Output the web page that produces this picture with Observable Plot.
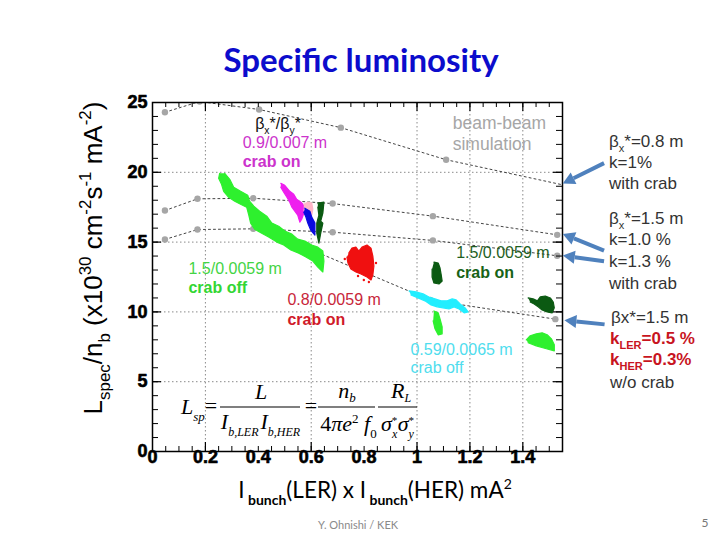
<!DOCTYPE html>
<html><head><meta charset="utf-8">
<script src="https://cdn.jsdelivr.net/npm/d3@7"></script>
<script src="https://cdn.jsdelivr.net/npm/@observablehq/plot@0.6"></script>
<style>body{margin:0;background:#fff;} svg{display:block;}</style>
</head><body><div id="chart"></div>
<script>
// ---------- data ----------
// beam-beam simulation curves [x, y]
const simA = [[0.047,24.3],[0.178,25.07],[0.403,24.5],[0.712,23.2],[1.11,20.9],[1.6,18.9]];
const simB = [[0.047,17.26],[0.17,18.1],[0.381,18.14],[0.681,17.76],[1.06,16.86],[1.53,15.52]];
const simC = [[0.047,15.19],[0.17,15.9],[0.381,15.95],[0.681,15.71],[1.06,15.12],[1.53,14.02]];
const simD = [[0.45,15.6],[0.611,14.36],[1.05,10.85],[1.523,9.48]];

// measured data clouds (outlines) [x, y]
const crabOff15 = [[0.273,19.93],[0.292,19.5],[0.307,18.93],[0.333,18.64],[0.36,18.36],[0.367,17.93],[0.383,17.57],[0.405,17.21],[0.432,16.86],[0.451,16.36],[0.477,16.14],[0.5,15.79],[0.527,15.57],[0.549,15.21],[0.576,15.07],[0.602,14.79],[0.625,14.64],[0.644,14.36],[0.648,13.64],[0.644,12.86],[0.625,13.21],[0.606,13.64],[0.58,13.93],[0.553,14.21],[0.523,14.43],[0.496,14.79],[0.47,15.0],[0.439,15.36],[0.413,15.64],[0.386,15.93],[0.371,16.36],[0.364,16.93],[0.356,17.5],[0.333,17.71],[0.311,17.93],[0.288,18.21],[0.269,18.64],[0.261,19.14],[0.25,19.57],[0.254,19.93]];
const crabOn09 = [[0.485,19.21],[0.5,19.07],[0.519,18.64],[0.534,18.43],[0.545,18.07],[0.561,17.86],[0.572,17.64],[0.572,17.07],[0.564,16.64],[0.557,16.43],[0.549,16.93],[0.538,17.21],[0.527,17.5],[0.519,17.86],[0.508,18.21],[0.496,18.57],[0.485,18.93]];
const pinkRun = [[0.572,17.71],[0.587,17.86],[0.602,17.79],[0.606,17.36],[0.602,16.93],[0.583,17.14],[0.572,17.29]];
const blueRun = [[0.576,17.43],[0.595,17.21],[0.602,16.79],[0.614,16.36],[0.614,15.5],[0.598,15.86],[0.587,16.36],[0.58,16.79],[0.572,17.14]];
const crabOn15a = [[0.625,17.79],[0.648,17.86],[0.644,17.07],[0.636,16.5],[0.644,16.36],[0.636,15.64],[0.629,14.93],[0.621,15.64],[0.621,16.36],[0.629,16.93],[0.625,17.5]];
const crabOn08 = [[0.742,14.21],[0.754,14.57],[0.769,14.64],[0.78,14.36],[0.792,14.64],[0.811,14.79],[0.826,14.57],[0.833,14.0],[0.837,13.29],[0.833,12.64],[0.826,12.29],[0.811,12.5],[0.788,12.71],[0.769,12.86],[0.75,13.07],[0.739,13.5],[0.735,13.93]];
const crabOn08Stray = [[0.727,13.79],[0.799,12.29],[0.845,13.5],[0.818,12.14],[0.777,12.57]];
const crabOn15b = [[1.064,13.57],[1.08,13.5],[1.087,13.14],[1.091,12.71],[1.095,12.21],[1.083,12.0],[1.064,12.07],[1.057,12.5],[1.057,13.07]];
const crabOn15c = [[1.42,11.0],[1.439,10.93],[1.455,10.79],[1.466,11.07],[1.485,11.14],[1.504,11.0],[1.515,10.71],[1.519,10.29],[1.511,9.93],[1.492,10.0],[1.473,10.14],[1.458,10.36],[1.443,10.57],[1.428,10.71]];
const crabOff059 = [[0.97,11.5],[0.996,11.43],[1.023,11.29],[1.045,11.07],[1.068,10.93],[1.091,10.79],[1.114,10.79],[1.133,10.93],[1.148,10.86],[1.163,10.57],[1.182,10.29],[1.193,10.0],[1.178,9.93],[1.159,10.21],[1.14,10.36],[1.121,10.21],[1.098,10.29],[1.076,10.36],[1.053,10.5],[1.03,10.79],[1.004,11.0],[0.977,11.21]];
const woCrabB = [[1.064,10.07],[1.08,9.93],[1.087,9.5],[1.095,8.93],[1.095,8.43],[1.08,8.36],[1.068,8.79],[1.061,9.36]];
const woCrabC = [[1.413,8.0],[1.428,8.29],[1.451,8.43],[1.473,8.5],[1.492,8.36],[1.508,8.07],[1.519,7.64],[1.519,7.21],[1.489,7.36],[1.451,7.57],[1.42,7.79]];

// axes
const xTickLabels = [0,0.2,0.4,0.6,0.8,1,1.2,1.4];
const yTickLabels = [0,5,10,15,20,25];
const xGrid = [0.2,0.6,1.0,1.2,1.4];
const yGrid = [5,10,15,20];
const xMinor = d3.range(0.05,1.54,0.05);
const yMinor = d3.range(1,25,1);

// arrows: tail -> head (end of the simulation curves)
const arrows = [
  {x1:1.709,y1:20.62,x2:1.553,y2:19.16},
  {x1:1.709,y1:14.36,x2:1.553,y2:15.55},
  {x1:1.709,y1:13.59,x2:1.553,y2:14.0},
  {x1:1.711,y1:9.07, x2:1.559,y2:9.36}
];

// in-plot labels
const labels = [
  {x:0.341,y:22.09,text:"0.9/0.007 m",color:"#CC33CC",bold:false},
  {x:0.341,y:20.74,text:"crab on",color:"#CC33CC",bold:true},
  {x:1.135,y:23.52,text:"beam-beam",color:"#A6A6A6",bold:false,size:17.5},
  {x:1.135,y:21.98,text:"simulation",color:"#A6A6A6",bold:false,size:17.5},
  {x:0.136,y:13.05,text:"1.5/0.0059 m",color:"#44D444",bold:false},
  {x:0.136,y:11.69,text:"crab off",color:"#33D633",bold:true},
  {x:0.51,y:10.84,text:"0.8/0.0059 m",color:"#C8263A",bold:false},
  {x:0.51,y:9.41,text:"crab on",color:"#D01A2A",bold:true},
  {x:1.148,y:14.24,text:"1.5/0.0059 m",color:"#1F5F1F",bold:false},
  {x:1.148,y:12.81,text:"crab on",color:"#176317",bold:true},
  {x:0.975,y:7.29,text:"0.59/0.0065 m",color:"#4FDDEE",bold:false},
  {x:0.975,y:5.98,text:"crab off",color:"#4FDDEE",bold:false}
];

const clouds = [
  {pts:crabOff15,color:"#2EF02E"},
  {pts:crabOn09,color:"#EE1FEE"},
  {pts:pinkRun,color:"#FFB6C8"},
  {pts:blueRun,color:"#0A0AE0"},
  {pts:crabOn15a,color:"#0B5A12"},
  {pts:crabOn08,color:"#F01010"},
  {pts:crabOn15b,color:"#0B5A12"},
  {pts:crabOn15c,color:"#0B5A12"},
  {pts:crabOff059,color:"#22EEFF"},
  {pts:woCrabB,color:"#2EF02E"},
  {pts:woCrabC,color:"#2EF02E"}
];

// ---------- plot ----------
const W = 720-152-158, H = 540-102-89;
const px = d=>d[0], py = d=>d[1];
const plot = Plot.plot({
  width:720, height:540,
  marginLeft:152, marginRight:158, marginTop:102, marginBottom:89,
  style:{background:"white", fontFamily:"'Liberation Sans', Arial, sans-serif", overflow:"visible"},
  x:{domain:[0,1.55], axis:null},
  y:{domain:[0,25], axis:null},
  marks:[
    Plot.ruleX(xGrid,{stroke:"#8a8a8a",strokeDasharray:"1.5,2.5",strokeWidth:1}),
    Plot.ruleY(yGrid,{stroke:"#8a8a8a",strokeDasharray:"1.5,2.5",strokeWidth:1}),
    ...[simA,simB,simC,simD].map(s=>Plot.line(s,{x:px,y:py,stroke:"#444",strokeWidth:1,strokeDasharray:"2,3",clip:true})),
    ...[simA,simB,simC,simD].map(s=>Plot.dot(s,{x:px,y:py,r:3.2,fill:"#A6A6A6",stroke:"none",clip:true})),
    ...clouds.map(c=>Plot.line(c.pts,{x:px,y:py,fill:c.color,stroke:c.color,strokeWidth:1.2,curve:"linear"})),
    Plot.dot(crabOn08Stray,{x:px,y:py,r:1.2,fill:"#F01010",stroke:"none"}),
    Plot.frame({stroke:"black",strokeWidth:1.5}),
    // ticks (inward, all four sides)
    Plot.ruleX(xMinor,{stroke:"black",insetTop:H-5}),
    Plot.ruleX(xMinor,{stroke:"black",insetBottom:H-5}),
    Plot.ruleX(xGrid,{stroke:"black",strokeWidth:1.2,insetTop:H-9}),
    Plot.ruleX(xGrid,{stroke:"black",strokeWidth:1.2,insetBottom:H-9}),
    Plot.ruleY(yMinor,{stroke:"black",insetRight:W-6}),
    Plot.ruleY(yMinor,{stroke:"black",insetLeft:W-6}),
    Plot.ruleY(yGrid,{stroke:"black",strokeWidth:1.2,insetRight:W-9}),
    Plot.ruleY(yGrid,{stroke:"black",strokeWidth:1.2,insetLeft:W-9}),
    // tick labels
    Plot.text(xTickLabels,{x:d=>d,frameAnchor:"bottom",dy:11,text:d=>String(d),fontSize:18,fontWeight:"bold",fill:"black",stroke:"black",strokeWidth:0.6}),
    Plot.text(yTickLabels,{y:d=>d,frameAnchor:"left",dx:-5,textAnchor:"end",text:d=>String(d),fontSize:18,fontWeight:"bold",fill:"black",stroke:"black",strokeWidth:0.6}),
    // labels
    ...labels.map(l=>Plot.text([l],{x:"x",y:"y",text:"text",textAnchor:"start",fill:l.color,fontSize:l.size||16,fontWeight:l.bold?"bold":"normal"}))
  ]
});
document.getElementById("chart").appendChild(plot);

// ---------- extra annotations ----------
const svg = d3.select(plot);
const X = plot.scale("x"), Y = plot.scale("y");
const g = svg.append("g");

function rich(x, y, parts, o){
  const t = g.append("text").attr("x",x).attr("y",y)
    .attr("font-family",o.family||"'Liberation Sans', Arial, sans-serif")
    .attr("font-size",o.size).attr("fill",o.fill||"#000")
    .attr("text-anchor",o.anchor||"start")
    .attr("font-weight",o.weight||"normal").attr("font-style",o.style||"normal")
    .style("white-space","pre");
  if (o.transform) t.attr("transform",o.transform);
  let cur = 0;
  for (const p of parts){
    const q = typeof p === "string" ? {t:p} : p;
    const shift = q.sub ? o.size*(q.subShift||0.3) : q.sup ? -o.size*(q.supShift||0.42) : 0;
    const ts = t.append("tspan").text(q.t).attr("dy",shift-cur);
    if (q.dx) ts.attr("dx",q.dx);
    if (q.sub||q.sup) ts.attr("font-size",q.size||o.size*0.65);
    if (q.weight) ts.attr("font-weight",q.weight);
    if (q.style) ts.attr("font-style",q.style);
    if (q.fill) ts.attr("fill",q.fill);
    cur = shift;
  }
  return t;
}

// title
rich(361,72,["Specific luminosity"],{family:"Lato, 'Open Sans', sans-serif",size:33,weight:"bold",fill:"#0C0CCC",anchor:"middle"});

// y-axis title
rich(0,0,["L",{t:"spec",sub:true},"/n",{t:"b",sub:true}," (x10",{t:"30",sup:true}," cm",{t:"-2",sup:true},"s",{t:"-1",sup:true}," mA",{t:"-2",sup:true},")"],
  {size:26,anchor:"middle",transform:"translate(102,258) rotate(-90)"});

// x-axis title
rich(375,498,["I",{t:" bunch",sub:true,weight:"bold",size:14},"(LER) x I",{t:" bunch",sub:true,weight:"bold",size:14},"(HER) mA",{t:"2",sup:true,size:14}],
  {family:"Lato, 'Open Sans', sans-serif",size:22.5,anchor:"middle"});

// footer
rich(358,529,["Y. Ohnishi / KEK"],{family:"Lato, sans-serif",size:11,fill:"#8a8a8a",anchor:"middle"});
rich(705,527,["5"],{family:"Lato, sans-serif",size:12,fill:"#777",anchor:"middle"});

// beta label inside plot
rich(X.apply(0.39),Y.apply(23.5)+6,["β",{t:"x",sub:true},"*/β",{t:"y",sub:true},"*"],{size:16,fill:"#111"});

// right annotations
const RX = 609, RS = 17, RC = "#333";
rich(RX,147,["β",{t:"x",sub:true},"*=0.8 m"],{size:RS,fill:RC});
rich(RX,168,["k=1%"],{size:RS,fill:RC});
rich(RX,189,["with crab"],{size:RS,fill:RC});
rich(RX,224,["β",{t:"x",sub:true},"*=1.5 m"],{size:RS,fill:RC});
rich(RX,245,["k=1.0 %"],{size:RS,fill:RC});
rich(RX,267,["k=1.3 %"],{size:RS,fill:RC});
rich(RX,289,["with crab"],{size:RS,fill:RC});
rich(RX+2,323,["βx*=1.5 m"],{size:RS,fill:RC});
rich(RX+1,344,["k",{t:"LER",sub:true},"=0.5 %"],{size:RS,fill:"#C8141E",weight:"bold"});
rich(RX+1,365,["k",{t:"HER",sub:true},"=0.3%"],{size:RS,fill:"#C8141E",weight:"bold"});
rich(RX+1,388,["w/o crab"],{size:RS,fill:RC});

// arrows
for (const a of arrows){
  const x1=X.apply(a.x1), y1=Y.apply(a.y1), x2=X.apply(a.x2), y2=Y.apply(a.y2);
  const dx=x2-x1, dy=y2-y1, L=Math.hypot(dx,dy), ux=dx/L, uy=dy/L;
  const hl=12, hw=6.5;
  const bx=x2-ux*hl, by=y2-uy*hl;
  g.append("line").attr("x1",x1).attr("y1",y1).attr("x2",bx).attr("y2",by)
    .attr("stroke","#4F81BD").attr("stroke-width",4);
  g.append("polygon").attr("points",[[x2,y2],[bx-uy*hw,by+ux*hw],[bx+uy*hw,by-ux*hw]].map(p=>p.join(",")).join(" "))
    .attr("fill","#4F81BD");
}

// formula
const F = "'Liberation Serif', 'Times New Roman', serif";
const fo = (o)=>Object.assign({family:F,size:22,style:"italic"},o);
rich(181,414,["L",{t:"sp",sub:true,size:13}],fo({}));
rich(211,413,["="],fo({style:"normal",anchor:"middle"}));
rich(311,413,["="],fo({style:"normal",anchor:"middle"}));
const bars = [[220,300],[318,375],[378,417]];
for (const b of bars) g.append("line").attr("x1",b[0]).attr("x2",b[1]).attr("y1",407).attr("y2",407).attr("stroke","#000").attr("stroke-width",1.2);
rich(261,399,["L"],fo({anchor:"middle"}));
rich(260.5,429,["I",{t:"b,LER",sub:true,size:12},{t:"I",dx:2},{t:"b,HER",sub:true,size:12}],fo({anchor:"middle"}));
rich(347,398,["n",{t:"b",sub:true,size:13,subShift:0.2}],fo({anchor:"middle"}));
rich(348.5,431,[{t:"4",style:"normal"},"πe",{t:"2",sup:true,size:13,style:"normal",supShift:0.35}," f",{t:"0",sub:true,size:13,style:"normal"}],fo({anchor:"middle"}));
rich(401,398,["R",{t:"L",sub:true,size:12,subShift:0.2}],fo({anchor:"middle"}));
rich(397.5,431,["σ",{t:"x",sub:true,size:12},{t:"*",sup:true,size:11,dx:-6,supShift:0.3},{t:"σ",dx:1},{t:"y",sub:true,size:12},{t:"*",sup:true,size:11,dx:-6,supShift:0.3}],fo({anchor:"middle"}));
</script>
</body></html>
